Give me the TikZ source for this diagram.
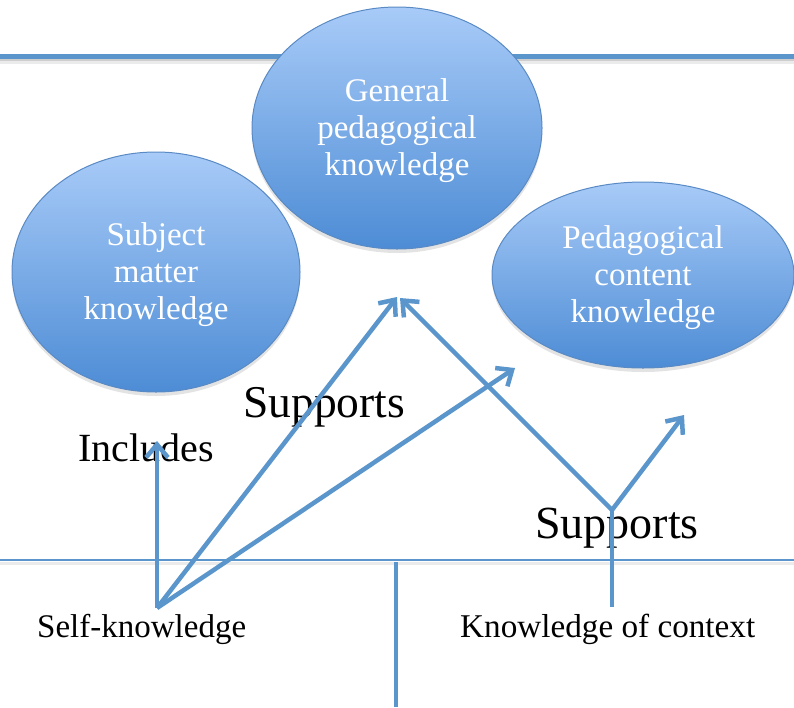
\documentclass[tikz,border=0pt]{standalone}
\usepackage{fontspec}
\setmainfont{Liberation Serif}
\usetikzlibrary{arrows.meta,shapes.geometric,shadows}
\definecolor{lineblue}{HTML}{5A95CB}
\definecolor{elltop}{HTML}{A8CBF8}
\definecolor{ellbot}{HTML}{4D8CD5}
\definecolor{ellborder}{HTML}{5A8AC4}
\newcommand\bubtxt[1]{\raisebox{0pt}[\dimexpr\height+7pt\relax][\depth]{\begin{tabular}{@{}c@{}}#1\end{tabular}}}
\begin{document}
\begin{tikzpicture}[x=1pt,y=-1pt,
  bubble/.style={ellipse, draw=ellborder, line width=1pt, top color=elltop, bottom color=ellbot,
    inner sep=0pt, text=white, font=\fontsize{33}{37}\selectfont,
    drop shadow={opacity=0.22, shadow xshift=0pt, shadow yshift=-4pt}},
  conn/.style={draw=lineblue, line width=4.5pt},
  arr/.style={conn, -{Straight Barb[length=13pt,width=22pt]}},
  lbl/.style={anchor=base west, inner sep=0pt, text=black},
  rule/.style={draw=lineblue},
  ruleshadow/.style={draw=black},
]
\useasboundingbox (0,0) rectangle (794,707);
% horizontal rules
\draw[ruleshadow, opacity=0.08, line width=6pt] (0,61) -- (794,61);
\draw[ruleshadow, opacity=0.12, line width=3pt] (0,59.5) -- (794,59.5);
\draw[rule, line width=5pt] (0,56) -- (794,56);
\draw[ruleshadow, opacity=0.08, line width=3pt] (0,563) -- (794,563);
\draw[rule, line width=2pt] (0,560) -- (794,560);
% bubbles
\node[bubble, minimum width=290pt, minimum height=242pt] (gpk) at (397,128) {\bubtxt{General\\pedagogical\\knowledge}};
\node[bubble, minimum width=288pt, minimum height=240pt] (smk) at (156,272) {\bubtxt{Subject\\matter\\knowledge}};
\node[bubble, minimum width=302pt, minimum height=186pt] (pck) at (643,275) {\bubtxt{Pedagogical\\content\\knowledge}};
% labels
\node[lbl, font=\fontsize{45.5}{50}\selectfont] (sup1) at (243,417) {Supports};
\node[lbl, font=\fontsize{40}{46}\selectfont] (inc) at (78,461) {Includes};
\node[lbl, font=\fontsize{46}{50}\selectfont] (sup2) at (535,538) {Supports};
\node[lbl, font=\fontsize{33}{38}\selectfont] (self) at (37,637) {Self-knowledge};
\node[lbl, font=\fontsize{33.2}{36}\selectfont] (ctx) at (460,637) {Knowledge of context};
% connector points
\coordinate (sk) at (157,608);
\coordinate (incTip) at (157,441);
\coordinate (gpkTip) at (397,297);
\coordinate (gpkTipB) at (400,298);
\coordinate (t2) at (515,368);
\coordinate (kc) at (612,607);
\coordinate (j) at (612,510);
\coordinate (t3) at (684,415);
\coordinate (m1) at (396,562);
\coordinate (m2) at (396,707);
% connectors
\draw[arr] (sk) -- (incTip);
\draw[arr] (sk) -- (gpkTip);
\draw[arr] (sk) -- (t2);
\draw[conn] (kc) -- (j);
\draw[arr] (j) -- (gpkTipB);
\draw[arr] (j) -- (t3);
\draw[conn] (m1) -- (m2);
\end{tikzpicture}
\end{document}
